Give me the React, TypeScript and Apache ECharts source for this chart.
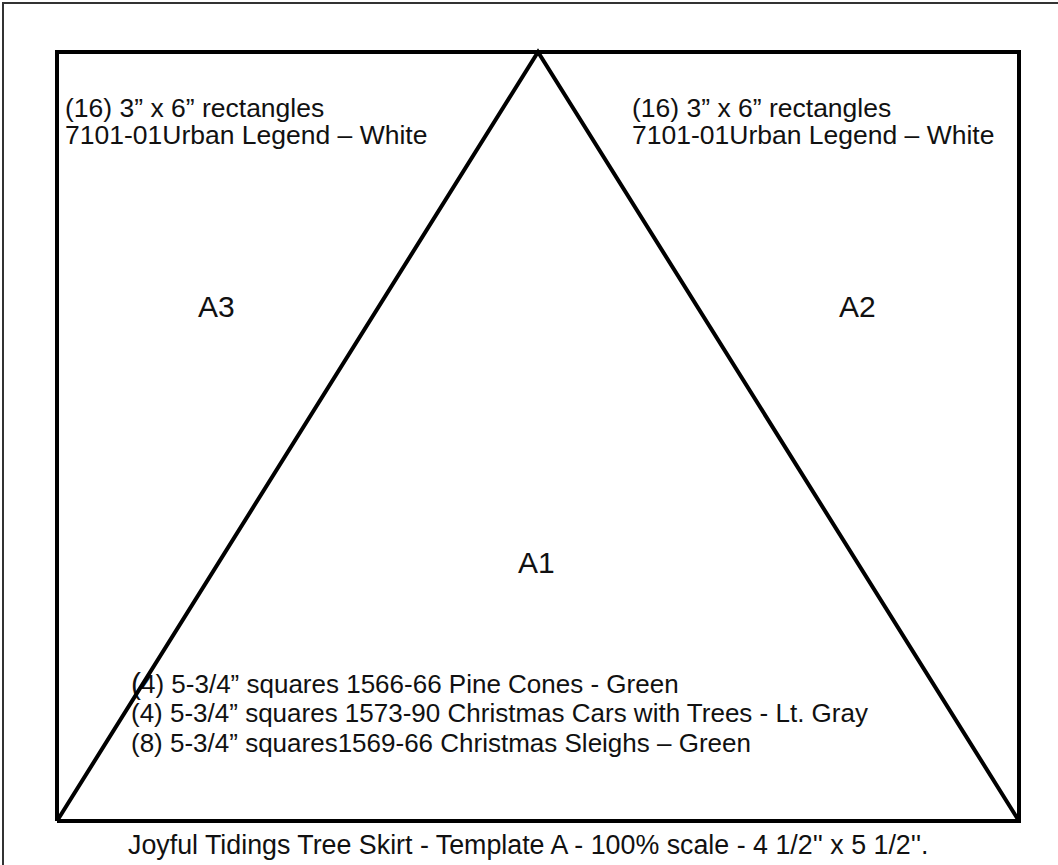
import React, { useEffect, useRef } from "react";
import * as echarts from "echarts";

// Template outline in inches (width 5 1/2, height 4 1/2)
const frameX = [0, 0, 5.5, 5.5, 0];
const frameY = [0, 4.5, 4.5, 0, 0];
const triangleX = [0, 2.75, 5.5];
const triangleY = [0, 4.5, 0];

const cornerNotes = ["(16) 3” x 6” rectangles", "7101-01Urban Legend – White"];
const pieceLabels = ["A3", "A2", "A1"];
const centerNotes = [
  "(4) 5-3/4” squares 1566-66 Pine Cones - Green",
  "(4) 5-3/4” squares 1573-90 Christmas Cars with Trees - Lt. Gray",
  "(8) 5-3/4” squares1569-66 Christmas Sleighs – Green",
];
const footerText = "Joyful Tidings Tree Skirt - Template A - 100% scale - 4 1/2'' x 5 1/2''.";

const FONT = '"Liberation Sans", Arial, sans-serif';

export default function App() {
  const ref = useRef<HTMLDivElement>(null);
  useEffect(() => {
    if (!ref.current) return;
    const chart = echarts.init(ref.current, null, { renderer: "svg" });
    const txt = (x: number, y: number, text: string, size: number, extra: any = {}) => ({
      type: "text",
      x,
      y,
      style: {
        text,
        fill: "#111",
        font: `${size}px ${FONT}`,
        textAlign: "left",
        textVerticalAlign: "middle",
        ...extra,
      },
    });
    const notesRich =
      "{big|" + centerNotes[0].slice(0, 1) + "}{n|" + centerNotes[0].slice(1) + "}\n" +
      centerNotes.slice(1).map((s) => "{n|" + s + "}").join("\n");
    chart.setOption({
      animation: false,
      backgroundColor: "#fff",
      grid: { left: 57, right: 39, top: 52, bottom: 44 },
      xAxis: { type: "value", min: 0, max: 5.5, show: false },
      yAxis: { type: "value", min: 0, max: 4.5, show: false },
      series: [
        {
          type: "line",
          data: frameX.map((x, i) => [x, frameY[i]]),
          symbol: "none",
          clip: false,
          lineStyle: { color: "#000", width: 4, join: "miter" },
        },
        {
          type: "line",
          data: triangleX.map((x, i) => [x, triangleY[i]]),
          symbol: "none",
          clip: false,
          lineStyle: { color: "#000", width: 4, join: "miter" },
        },
      ],
      graphic: [
        {
          type: "rect",
          shape: { x: 3, y: 3, width: 1070, height: 900 },
          style: { fill: "none", stroke: "#333", lineWidth: 2 },
          silent: true,
        },
        txt(65, 94.5, cornerNotes.join("\n"), 26.5, { textVerticalAlign: "top", lineHeight: 27 }),
        txt(632, 94.5, cornerNotes.join("\n"), 26.5, { textVerticalAlign: "top", lineHeight: 27 }),
        txt(198, 306, pieceLabels[0], 30),
        txt(839, 306, pieceLabels[1], 30),
        txt(518, 562, pieceLabels[2], 30),
        txt(131, 669, notesRich, 26, {
          textVerticalAlign: "top",
          lineHeight: 29.5,
          rich: {
            big: { font: `30px ${FONT}`, fill: "#111", lineHeight: 29.5 },
            n: { font: `26px ${FONT}`, fill: "#111", lineHeight: 29.5 },
          },
        }),
        txt(128, 845, footerText, 26.8),
      ],
    });
    return () => chart.dispose();
  }, []);
  return (
    <div
      ref={ref}
      style={{ position: "absolute", left: 0, top: 0, width: 1058, height: 865, background: "#fff" }}
    />
  );
}
